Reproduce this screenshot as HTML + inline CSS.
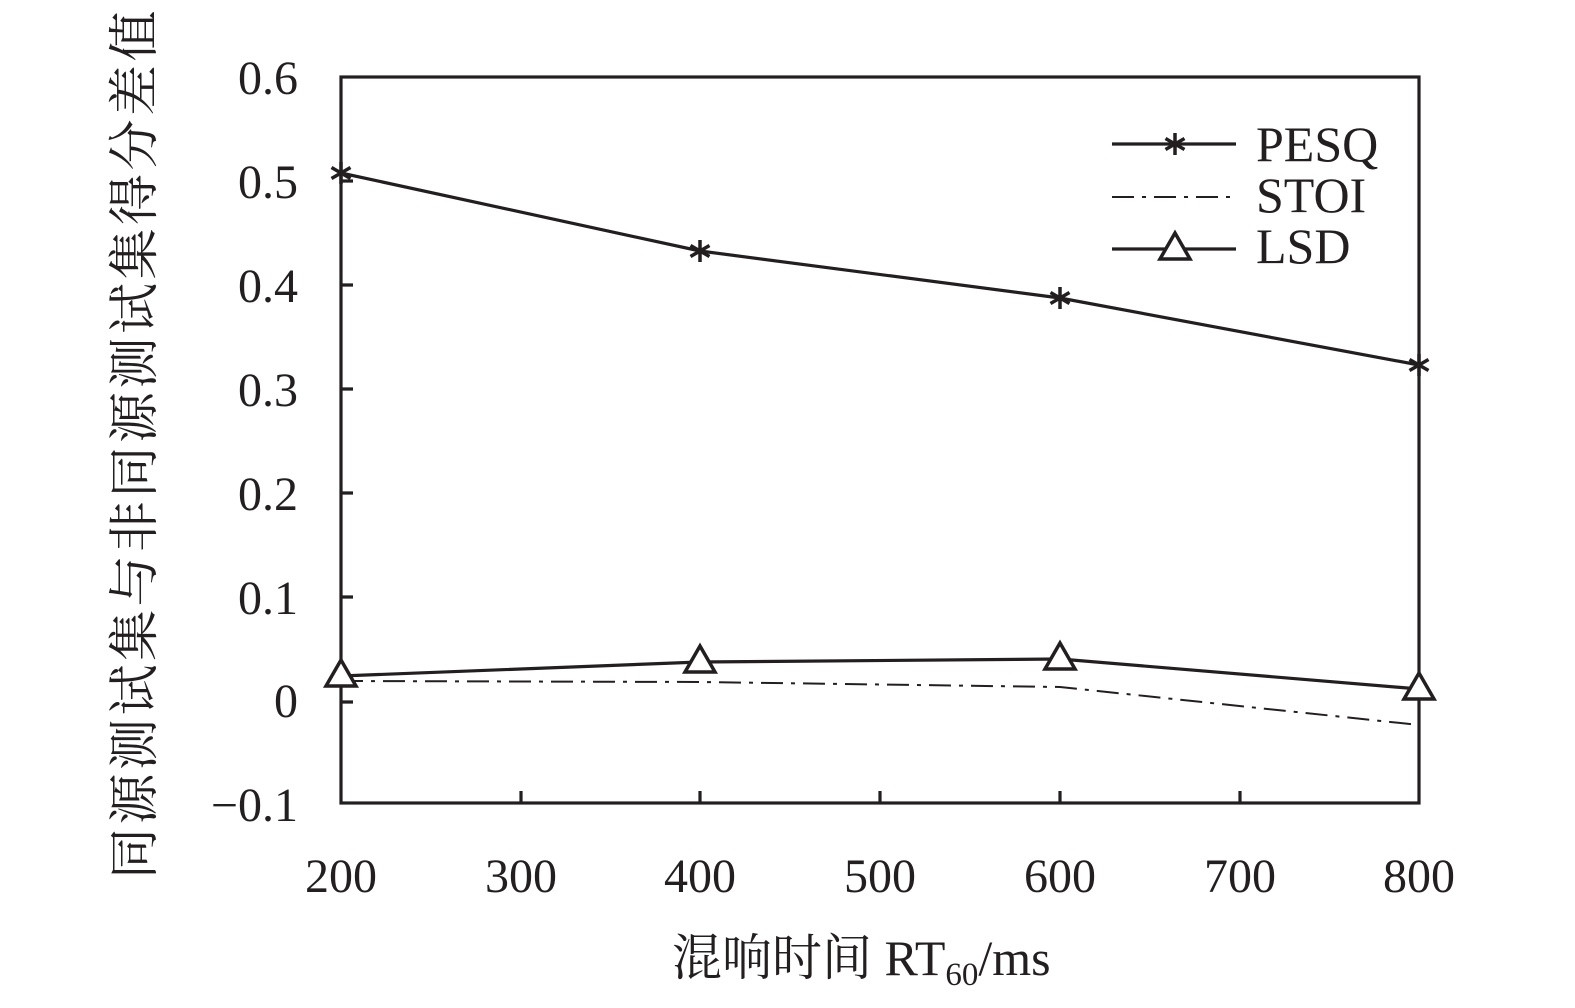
<!DOCTYPE html>
<html><head><meta charset="utf-8"><style>
html,body{margin:0;padding:0;background:#fff;}
svg{display:block;}
text{font-family:"Liberation Serif","Noto Serif CJK SC",serif;fill:#231f20;}
</style></head><body>
<svg width="1575" height="1008" viewBox="0 0 1575 1008" xmlns="http://www.w3.org/2000/svg">
<defs>
<g id="s"><path d="M0 -11v22M-9.5 -5.5l19 11M9.5 -5.5l-19 11"/></g>
<g id="t" fill="#fff"><path d="M0 -14L15 12H-15Z"/></g>
</defs>
<g stroke="#231f20" stroke-width="3.2" fill="none">
<rect x="341" y="77" width="1078" height="726"/>
<path d="M341 181h12M341 285h12M341 389h12M341 493h12M341 597h12M341 702h12"/>
<path d="M521 803v-12M700 803v-12M880 803v-12M1060 803v-12M1240 803v-12"/>
<polyline points="341,173 700,251 1060,298 1419,365"/>
<polyline stroke-width="2" stroke-dasharray="22,8,4,8" points="341,681 700,682 1060,687 1419,725"/>
<polyline points="341,676 700,662 1060,659 1419,689"/>
<path d="M1112 144h124M1112 249h124"/>
<path stroke-width="2" stroke-dasharray="22,8,4,8" d="M1112 197h124"/>
</g>
<g stroke="#231f20" stroke-width="3.5" fill="none">
<use href="#s" x="341" y="173"/><use href="#s" x="700" y="251"/><use href="#s" x="1060" y="298"/><use href="#s" x="1419" y="365"/><use href="#s" x="1175" y="144"/>
<use href="#t" x="341" y="674"/><use href="#t" x="700" y="660"/><use href="#t" x="1060" y="657"/><use href="#t" x="1419" y="687"/><use href="#t" x="1175" y="247"/>
</g>
<g font-size="48" text-anchor="end">
<text x="298" y="94">0.6</text>
<text x="298" y="198">0.5</text>
<text x="298" y="302">0.4</text>
<text x="298" y="406">0.3</text>
<text x="298" y="510">0.2</text>
<text x="298" y="614">0.1</text>
<text x="298" y="717">0</text>
<text x="298" y="821">−0.1</text>
</g>
<g font-size="48" text-anchor="middle">
<text x="341" y="892">200</text>
<text x="521" y="892">300</text>
<text x="700" y="892">400</text>
<text x="880" y="892">500</text>
<text x="1060" y="892">600</text>
<text x="1240" y="892">700</text>
<text x="1419" y="892">800</text>
</g>
<g font-size="50">
<text x="1256" y="161">PESQ</text>
<text x="1256" y="212">STOI</text>
<text x="1256" y="263">LSD</text>
</g>
<text x="672" y="975" font-size="50">混响时间 RT<tspan font-size="33" dy="10">60</tspan><tspan dy="-10">/ms</tspan></text>
<text transform="translate(152,443) rotate(-90)" font-size="51" text-anchor="middle" letter-spacing="3.5">同源测试集与非同源测试集得分差值</text>
</svg>
</body></html>
